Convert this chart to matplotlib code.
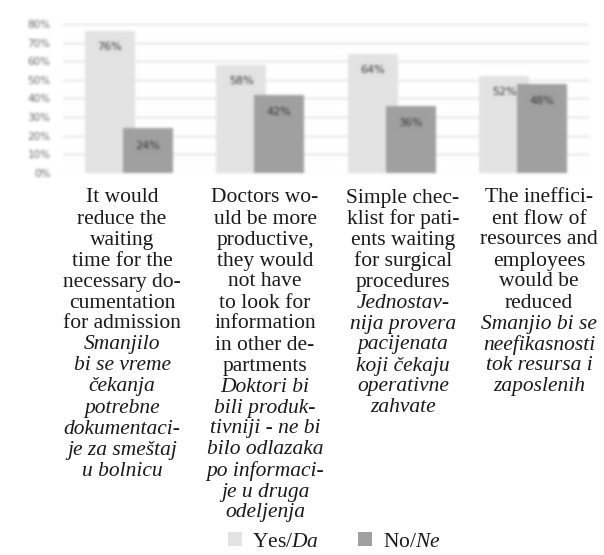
import numpy as np
import matplotlib
matplotlib.use("Agg")
import matplotlib.pyplot as plt
from matplotlib.patches import Patch
from matplotlib.ticker import PercentFormatter

plt.rcParams['mathtext.fontset'] = 'custom'
plt.rcParams['mathtext.rm'] = 'Liberation Serif'
plt.rcParams['mathtext.it'] = 'Liberation Serif:italic'

# survey answers, share of respondents
yes_vals = [0.76, 0.58, 0.64, 0.52]
no_vals = [0.24, 0.42, 0.36, 0.48]
yes_labels = ["76%", "58%", "64%", "52%"]
no_labels = ["24%", "42%", "36%", "48%"]

english = [
    "It would\nreduce the\nwaiting\ntime for the\nnecessary do-\ncumentation\nfor admission",
    "Doctors wo-\nuld be more\nproductive,\nthey would\nnot have\nto look for\ninformation\nin other de-\npartments",
    "Simple chec-\nklist for pati-\nents waiting\nfor surgical\nprocedures",
    "The ineffici-\nent flow of\nresources and\nemployees\nwould be\nreduced",
]
serbian = [
    "Smanjilo\nbi se vreme\nčekanja\npotrebne\ndokumentaci-\nje za smeštaj\nu bolnicu",
    "Doktori bi\nbili produk-\ntivniji - ne bi\nbilo odlazaka\npo informaci-\nje u druga\nodeljenja",
    "Jednostav-\nnija provera\npacijenata\nkoji čekaju\noperativne\nzahvate",
    "Smanjio bi se\nneefikasnosti\ntok resursa i\nzaposlenih",
]

YES_C = '#e3e3e3'
NO_C = '#a0a0a0'


def soften(img, dpi, sigma=1.3):
    # gaussian blur on premultiplied rgba
    pad = 5
    a = np.pad(img, ((pad, pad), (pad, pad), (0, 0)))
    a[..., :3] *= a[..., 3:4]
    x = np.arange(-pad, pad + 1)
    k = np.exp(-x ** 2 / (2 * sigma ** 2))
    k /= k.sum()
    for axis in (0, 1):
        out = np.zeros_like(a)
        for i, w in enumerate(k):
            out += w * np.roll(a, i - pad, axis=axis)
        a = out
    alpha = a[..., 3:4]
    a[..., :3] = np.where(alpha > 0, a[..., :3] / np.maximum(alpha, 1e-6), 0)
    return np.clip(a, 0, 1), -pad, -pad


W, H = 604, 555
fig = plt.figure(figsize=(W / 100, H / 100), dpi=100, facecolor='white')
ax = fig.add_axes([63 / W, 1 - 173 / H, 526 / W, 149 / H])

x = np.arange(len(yes_vals))
d = 0.29
bw = 0.38
ax.bar(x - d / 2, yes_vals, bw, color=YES_C, zorder=2)
for xi, v, lab in zip(x, yes_vals, yes_labels):
    ax.annotate(lab, (xi - d / 2, v), xytext=(0, -11.5), textcoords='offset points',
                ha='center', va='center', fontsize=8, color='#333333', zorder=2.5)
ax.bar(x + d / 2, no_vals, bw, color=NO_C, zorder=3)
for xi, v, lab in zip(x, no_vals, no_labels):
    ax.annotate(lab, (xi + d / 2, v), xytext=(0, -12.5), textcoords='offset points',
                ha='center', va='center', fontsize=8, color='#333333', zorder=3.5)

ax.set_xlim(-0.5, len(x) - 0.5)
ax.set_ylim(0, 0.8)
ax.set_yticks(np.arange(0, 0.81, 0.1))
ax.yaxis.set_major_formatter(PercentFormatter(1.0, decimals=0))
ax.tick_params(axis='y', length=0, pad=9, labelsize=7.5, labelcolor='#666666')
ax.set_xticks([])
ax.grid(axis='y', color='#dadada', lw=0.9, zorder=0)
for s in ax.spines.values():
    s.set_visible(False)
ax.set_agg_filter(soften)

# category texts under the chart, english upright then serbian in italics
col_x = [122, 265, 403, 539]
top = 198
step = 21
for cx, en, sr in zip(col_x, english, serbian):
    lines = [(t, 'normal') for t in en.split('\n')] + [(t, 'italic') for t in sr.split('\n')]
    for i, (t, st) in enumerate(lines):
        fig.text(cx / W, 1 - (top + i * step) / H, t, ha='center', va='center',
                 family='Liberation Serif', style=st, fontsize=15.5, color='#1a1a1a')

handles = [Patch(facecolor=YES_C), Patch(facecolor=NO_C)]
fig.legend(handles, ['Yes/$\\mathit{Da}$', 'No/$\\mathit{Ne}$'], loc='center',
           bbox_to_anchor=(334 / W, 1 - 542 / H), ncol=2, frameon=False,
           prop={'family': 'Liberation Serif', 'size': 15.5}, handlelength=0.65,
           handleheight=0.65, handletextpad=0.5, columnspacing=1.8, labelcolor='#1a1a1a')

fig.savefig('out.png', dpi=100, facecolor='white')
